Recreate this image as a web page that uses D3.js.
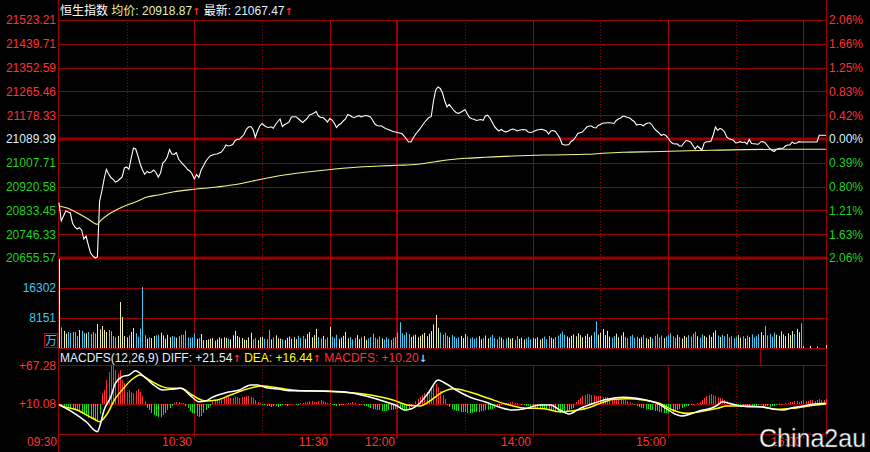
<!DOCTYPE html>
<html><head><meta charset="utf-8">
<script src="https://cdn.jsdelivr.net/npm/d3@7"></script>
<style>html,body{margin:0;padding:0;background:#000;}svg{display:block;}</style>
</head><body>
<svg id="c" width="870" height="452"></svg>
<script>
// ---------- data ----------
const priceTickLabels = ["21523.21","21439.71","21352.59","21265.46","21178.33","21089.39","21007.71","20920.58","20833.45","20746.33","20655.57"];
const pctTickLabels = ["2.06%","1.66%","1.25%","0.83%","0.42%","0.00%","0.39%","0.80%","1.21%","1.63%","2.06%"];
const volTickValues = [16302, 8151];
const macdTickValues = [57.2, 0];
const macdTickLabels = ["+67.28", "+10.08"];
const timeLabels = ["09:30","10:30","11:30","12:00","14:00","15:00","16:00"];
const timeLabelMinutes = [0, 60, 120, 150, 210, 270, 330];
const solidGridMinutes = [60, 120, 210, 270, 330];
const dottedGridMinutes = [30, 90, 180, 240, 300];
const lunchMinute = 150;

const price = [
20857.2,20790.5,20808.7,20826.9,20823.3,20819.6,20783.2,20768.6,20761.3,20766,
20757.7,20724.8,20735.8,20703,20673.8,20662.9,20655.6,20659.2,20863.4,20899.8,
20943.6,20978.9,20961.8,20949,20942.5,20932.6,20936.3,20943.6,20950.9,20983.7,
20987.3,20978.9,21020.1,21056.6,21052.9,21027.4,20998.3,20976.4,20960.7,20970.9,
20966.5,20969.1,20976.4,20966.5,20950.9,20965.5,21001.9,21009.2,21023.8,21051.1,
21034.7,21033.6,21039.5,21016.5,21005.6,20997.2,20989.1,20978.2,20972.7,20961.8,
20943.6,20960,20949,20976.4,20991,21007.4,21018.3,21027.4,21031.1,21033.6,
21034.7,21038.4,21042,21052.9,21067.5,21063.9,21065.7,21069.4,21082.1,21088.3,
21088.3,21096.7,21105.8,21124,21133.1,21135,21124.8,21094.9,21118.6,21136.8,
21145.9,21138.6,21133.1,21131.3,21133.9,21128.4,21142.3,21153.2,21162.3,21135,
21142.3,21145.9,21151.4,21169.6,21170.7,21170.7,21164.1,21156.8,21149.6,21156.8,
21164.1,21176.9,21179.4,21184.2,21189.7,21173.2,21167.8,21167.8,21160.5,21151.4,
21164.1,21158.7,21147.7,21131.3,21140.4,21145.9,21155,21162.3,21178.7,21175.1,
21169.6,21167.8,21171.4,21174.3,21169.6,21173.2,21175.1,21173.2,21169.6,21158.7,
21144.1,21138.6,21136.8,21136.8,21131.3,21126.6,21124,21120.4,21116.7,21114.9,
21113.1,21111.3,21109.4,21100.3,21089.4,21078.5,21078.5,21093,21105.8,21116.7,
21125.9,21138.6,21149.6,21158.7,21167.8,21170.7,21227.9,21268,21279,21273.5,
21257.1,21227.9,21206.1,21215.2,21204.2,21193.3,21186,21183.1,21186,21191.5,
21196.9,21180.5,21167.8,21163.4,21161.2,21156.8,21158.7,21160.5,21157.6,21173.2,
21176.2,21166,21151.4,21135,21125.9,21118.6,21124,21118.6,21115.6,21117.8,
21122.2,21125.9,21124,21118.6,21121.1,21122.9,21124,21122.2,21114.9,21113.1,
21114.9,21119.7,21122.2,21124,21124.8,21122.2,21118.6,21107.6,21118.6,21120.4,
21116.7,21105.8,21093,21071.2,21067.5,21067.5,21069.4,21080.3,21085.8,21096.7,
21109.4,21112.4,21114.9,21124,21133.1,21136.8,21136.8,21131.3,21129.5,21138.6,
21142.3,21146.6,21147.7,21148.8,21148.8,21147.7,21146,21156.8,21162.3,21166,
21173.2,21171.4,21167.8,21166,21158.7,21153.2,21140.4,21142.3,21142.3,21137.5,
21144.1,21147.7,21147.7,21138.6,21125.9,21118.6,21111.3,21102.2,21106.5,21102.2,
21093,21080.3,21073,21071.2,21071.9,21063.9,21063.9,21074.8,21083.9,21082.1,
21078.5,21065.7,21052.9,21063.9,21056.6,21049.3,21074.8,21079.6,21079.6,21082.1,
21104,21133.1,21121.1,21128.4,21124,21114.9,21096.7,21090.1,21087.6,21084.7,
21074.8,21076.6,21079.6,21076.6,21078.5,21071.2,21087.6,21073,21072.3,21071.2,
21070.1,21078.5,21080.3,21075.9,21065.7,21054.8,21048.2,21043.8,21051.1,21054.8,
21055.5,21055.5,21063.9,21067.5,21067.5,21078.5,21073,21074.8,21079.6,21078.5,
21078.5,21078.5,21078.5,21078.5,21078.5,21078.5,21078.5,21102.9,21102.9,21102.9,21102.9
];

const avgMinutes = [0,4,8,13,17,18,22,26,31,35,39,44,51,60,70,79,86,99,114,129,142,150,159,166,171,180,189,201,215,234,241,250,263,289,321,340];
const avgValues = [20845.2,20836.8,20820.7,20796.7,20778.4,20787.9,20814.9,20833.1,20851.4,20863.4,20878,20885.3,20897.3,20906,20914.4,20924.3,20936.3,20957.1,20972.7,20984.8,20991,20993.5,20997.2,21005.6,21011.8,21019,21022.7,21027.4,21031.1,21033.6,21037.3,21040.9,21043.1,21048.2,21051.9,21051.9];

const volume = [
24180,5620,4620,3900,4350,4080,4350,4350,3260,4890,
4700,4080,3990,4350,3800,4350,3990,6520,5070,5980,
4890,4350,4890,4530,3260,2900,3300,12500,8420,3260,
2900,3450,4350,5430,3990,3070,5240,16570,3450,2530,
2900,2720,3260,3450,3610,4160,3450,2530,3610,2900,
3260,3070,2800,3260,3610,3610,4700,2900,2720,2900,
3990,2500,2720,3800,2170,2170,2360,2530,2720,1980,
2360,2900,2600,2900,2720,2530,2360,3450,4700,3260,
2900,2720,2300,2170,2900,4160,2360,2700,2170,2900,
3070,2530,2400,4890,2360,2900,3450,2600,2530,2360,
2170,2800,3100,2500,2900,2400,3300,
2700,3300,2500,3800,4300,2900,3500,5200,3000,2600,
3300,2400,2900,5700,3100,2700,3600,2400,2800,3300,
4400,2600,3000,2300,2700,3500,2400,2900,3200,2200,
2600,3000,3900,2800,2400,3100,2600,2300,2900,2500,
2200,2700,3000,4200,
7000,4000,3500,4300,3800,3000,3400,3600,2900,3300,
3700,4100,3200,3900,4600,6400,9000,5500,4200,3600,
4100,3300,2900,3500,3100,2600,2900,3300,2700,3800,
3100,2600,2900,2500,2800,3200,2400,2700,3400,2600,
3000,3600,2700,2400,3100,2800,2300,2600,2900,2500,
2700,2200,3200,2500,2800,2300,2600,3000,2400,2700,
2500,2900,2300,2600,3100,2400,3300,2800,2500,3000,
3400,3900,4500,3600,3100,2800,3300,3700,3200,4000,
3500,2900,3300,3800,3000,3400,4400,7300,3600,4100,
5200,3500,4700,3100,2800,3300,3900,2900,3400,4300,
3000,2700,3200,3600,2800,3100,2600,2900,3500,2700,
2400,3000,2600,3300,3800,2900,3400,2700,3100,3500,
4000,3200,2800,3600,3000,2600,3300,2900,3500,3100,
3900,4400,3200,2800,3700,3300,2900,3500,3000,4200,
4800,3400,3000,3600,3200,3800,2900,3300,2700,3100,
3500,2800,3200,2600,3400,3000,3700,2900,3300,3800,
4300,3500,6000,3400,3900,3100,4200,3600,3300,4500,
3700,3200,4000,3500,4600,3800,5200,4300,6700,500,
0,0,600,0,0,400,0,0,0,800
];

const diffMinutes = [0,1,8,12,17,18,20,23,25,28,31,34,36,39,43,46,51,54,58,62,65,68,74,80,85,88,92,98,102,107,116,127,136,145,150,153,156,160,164,168,171,176,182,189,195,201,206,213,218,222,226,231,237,243,250,256,262,266,269,273,276,280,284,289,292,294,297,302,306,311,317,321,325,330,334,340];
const diffValues = [-1,-2.6,-16.6,-26.6,-41.7,-34.2,-9,11,31.2,41.1,43.6,50.1,46.2,37.2,26,21.1,22.6,23.6,13.5,3.5,4.5,10.1,17,21.1,28.6,28.6,24.5,22.1,20,20,19.6,18.1,12,3,-3,-9,-7.5,1.5,18.1,36.1,31.6,21.1,10.5,3,-4.5,-9,-7.5,-1.5,-1.5,-9,-15,-6.5,1.1,7.1,10.1,8.6,4.5,0,-6.5,-15,-18.1,-15,-10.1,-6.5,-1.5,3.5,1.1,-3,-4.1,-4.1,-8,-9,-5.6,-3,-0.5,1.1];
const deaMinutes = [0,1,8,15,18,21,25,28,32,36,40,45,49,54,58,62,65,70,76,83,90,98,107,120,135,148,155,160,165,170,175,182,190,198,206,215,222,228,234,240,246,252,259,266,272,278,284,292,296,303,311,318,325,333,340];
const deaValues = [-1,-2.6,-9,-21.5,-26.6,-16.6,8.5,21.1,36.1,43.6,36.1,27.1,23.6,23.6,16.1,7.5,4.5,6,13.5,22.1,27.1,23.6,20,19,15,6,-2,-3,6,18,23,18,9,0,-6,-7,-11.6,-10.1,-6.5,1.1,7.1,8,6,1.1,-9,-14,-11.6,-6.5,-3,-3,-4.1,-8,-6.5,-2.6,0];

const macdHist = [
0,-1.5,-3,-3,-4.5,-6,-7.5,-9,-10.5,-12,-15,-16.5,-18,-21,-22.5,-24,-25.5,-27,-15,
16.5,21,36,48,58.5,58.5,51,46.5,51,36,31.5,18,21,18,16.5,19.5,22.5,18,12,4.5,
-6,-9,-13.5,-16.5,-18,-19.5,-19.5,-16.5,-13.5,-9,-6,-3,
1.5,3,3,1.5,1.5,
-3,-6,-10.5,-13.5,-15,-18,-19.5,-18,-13.5,-9,-6,-3,
3,4.5,6,7.5,9,9,10.5,10.5,9,9,10.5,10.5,9,10.5,10.5,12,12,10.5,9,6,3,1.5,
-1.5,-1.5,-3,-3,-4.5,-3,-3,-4.5,-3,-1.5,-1.5,-3,-1.5,0,0,-1.5,-1.5,
1.5,1.5,3,3,4.5,4.5,3,3,4.5,6,4.5,3,1.5,1.5,
-1.5,-1.5,-3,-3,-1.5,-1.5,0,1.5,1.5,3,1.5,0,-1.5,
-1.5,-3,-3,-4.5,-6,-7.5,-7.5,-9,-9,-10.5,-10.5,-10.5,-9,-9,-9,-7.5,-7.5,-7.5,-9,-10.5,-10.5,-9,
-4.5,0,4.5,7.5,10.5,13.5,16.5,18,21,24,28.5,30,25.5,19.5,13.5,7.5,
-1.5,-4.5,-7.5,-9,-10.5,-10.5,-12,-12,-12,-13.5,-13.5,-13.5,-12,-12,-12,-10.5,-10.5,-9,-9,-7.5,-7.5,-6,-4.5,-3,
-1.5,0,1.5,1.5,3,3,1.5,1.5,0,-1.5,-1.5,-3,-3,-4.5,-4.5,
-6,-6,-7.5,-7.5,-7.5,-7.5,-9,-9,-10.5,-10.5,-12,-13.5,-13.5,-12,-10.5,-9,-7.5,-6,
3,6,9,12,13.5,15,15,13.5,13.5,12,12,12,10.5,10.5,10.5,9,9,9,7.5,7.5,7.5,6,6,4.5,3,1.5,
-1.5,-3,-4.5,-6,-6,-7.5,-7.5,-9,-9,-10.5,-10.5,-12,-12,-13.5,-13.5,-13.5,-12,-12,-10.5,-9,-7.5,-6,-4.5,-3,
-3,-1.5,-1.5,0,1.5,3,
6,9,12,13.5,15,13.5,12,10.5,9,7.5,6,4.5,3,
-1.5,-1.5,-1.5,-3,-3,-3,-3,-4.5,-4.5,-3,-3,-3,-1.5,-1.5,-3,-3,-3,-4.5,-3,-3,-1.5,-1.5,-1.5,0,1.5,
1.5,3,3,4.5,4.5,3,4.5,6,4.5,4.5,6,6,4.5,6,7.5,6,6,7.5
];

const headerTitle = "恒生指数";
const avgLabel = "20918.87";
const lastLabel = "21067.47";
const macdName = "MACDFS(12,26,9)";
const diffLabel = "+21.54", deaLabel = "+16.44", histLabel = "+10.20";

// ---------- drawing ----------
const svg = d3.select("#c");
const FONT = "'Liberation Sans', Arial, 'Noto Sans CJK SC', sans-serif";
const GRID = "#9a0000";
const RED = "#ff3232", GREEN = "#1ed21e", WHITEB = "#dceeff", CYAN = "#3cc8f0";
const L = 59, R = 826;
const lo = 20655.57, hi = 21523.21;

const x = d3.scaleLinear().domain([0, 340]).range([L, R]);
const yP = d3.scaleLinear().domain([lo, hi]).range([258, 20]);
const yV = d3.scaleLinear().domain([0, 24453]).range([348, 258]);
const yM = d3.scaleLinear().domain([-45.15, 57.2]).range([434, 366]);

svg.append("rect").attr("width", 870).attr("height", 452).attr("fill", "#000");
const grid = svg.append("g");
const hl = (y, w) => grid.append("line").attr("x1", L).attr("x2", R).attr("y1", y).attr("y2", y)
  .attr("stroke", GRID).attr("stroke-width", w || 1);

// price grid
const levels = d3.range(11).map(i => hi - i * (hi - lo) / 10);
levels.forEach((v, i) => {
  const yy = Math.round(yP(v));
  if (i === 5 || i === 10) hl(yy, 3); else hl(yy + 0.5, 1);
});
// volume grid
volTickValues.forEach(v => hl(Math.round(yV(v)) + 0.5));
hl(Math.round(yV(0)) + 0.5);
// macd grid
hl(Math.round(yM(57.2)) - 0.5);
hl(Math.round(yM(0)) + 0.5);
hl(Math.round(yM(-45.15)) + 0.5);

// vertical grid
const vl = (m, y1, y2, w, dash) => {
  const xx = Math.round(x(m)) + (w === 2 ? 0 : 0.5);
  const l = grid.append("line").attr("x1", xx).attr("x2", xx).attr("y1", y1).attr("y2", y2)
    .attr("stroke", GRID).attr("stroke-width", w);
  if (dash) l.attr("stroke-dasharray", dash);
};
const segs = [[20, 348], [366, 438]];
segs.forEach(([a, b]) => {
  solidGridMinutes.forEach(m => vl(m, a, b, 1));
  dottedGridMinutes.forEach(m => vl(m, a, b > 430 ? 434 : b, 1, "1,2"));
  vl(lunchMinute, a, b, 2);
});
// borders
grid.append("line").attr("x1", L - 0.5).attr("x2", L - 0.5).attr("y1", 0).attr("y2", 452).attr("stroke", GRID);
grid.append("line").attr("x1", R + 0.5).attr("x2", R + 0.5).attr("y1", 0).attr("y2", 438).attr("stroke", GRID);

// ---------- volume bars ----------
svg.append("g").selectAll("line").data(volume).join("line")
  .attr("x1", (d, i) => Math.round(x(i)) + 0.5).attr("x2", (d, i) => Math.round(x(i)) + 0.5)
  .attr("y1", yV(0)).attr("y2", d => yV(d))
  .attr("stroke", (d, i) => i === 0 ? "#ffffff" : (price[i] >= price[i - 1] ? "#ececa0" : CYAN))
  .attr("stroke-width", 1);

// ---------- price & avg ----------
const lineP = d3.line().x((d, i) => x(i)).y(d => yP(d));
svg.append("path").datum(price).attr("d", lineP).attr("fill", "none")
  .attr("stroke", "#ffffff").attr("stroke-width", 1.1);
const avgPts = avgMinutes.map((m, i) => [m, avgValues[i]]);
svg.append("path").datum(avgPts)
  .attr("d", d3.line().x(d => x(d[0])).y(d => yP(d[1])).curve(d3.curveMonotoneX))
  .attr("fill", "none").attr("stroke", "#f4f48c").attr("stroke-width", 1.1);

// ---------- MACD ----------
svg.append("g").selectAll("line").data(macdHist).join("line")
  .attr("x1", (d, i) => Math.round(x(i)) + 0.5).attr("x2", (d, i) => Math.round(x(i)) + 0.5)
  .attr("y1", yM(0)).attr("y2", d => yM(d))
  .attr("stroke", d => d >= 0 ? "#ff3030" : "#10e010").attr("stroke-width", 1);
const lineM = d3.line().x(d => x(d[0])).y(d => yM(d[1])).curve(d3.curveMonotoneX);
svg.append("path").datum(deaMinutes.map((m, i) => [m, deaValues[i]])).attr("d", lineM)
  .attr("fill", "none").attr("stroke", "#ffff00").attr("stroke-width", 1.5);
svg.append("path").datum(diffMinutes.map((m, i) => [m, diffValues[i]])).attr("d", lineM)
  .attr("fill", "none").attr("stroke", "#ffffff").attr("stroke-width", 1.5);

// ---------- axes text ----------
const txt = svg.append("g").attr("font-family", FONT).attr("font-size", 12);
levels.forEach((v, i) => {
  const col = i < 5 ? RED : (i === 5 ? WHITEB : GREEN);
  txt.append("text").attr("x", 56).attr("y", yP(v)).attr("dy", "0.36em")
    .attr("text-anchor", "end").attr("fill", col).text(priceTickLabels[i]);
  txt.append("text").attr("x", 829).attr("y", yP(v)).attr("dy", "0.36em")
    .attr("fill", col).text(pctTickLabels[i]);
});
volTickValues.forEach(v => {
  txt.append("text").attr("x", 56).attr("y", yV(v)).attr("dy", "0.36em")
    .attr("text-anchor", "end").attr("fill", CYAN).text(String(v));
});
svg.append("rect").attr("x", 44.5).attr("y", 333.5).attr("width", 13).attr("height", 14)
  .attr("fill", "none").attr("stroke", "#c00000");
txt.append("text").attr("x", 51).attr("y", 345).attr("text-anchor", "middle")
  .attr("fill", CYAN).text("万");
macdTickValues.forEach((v, i) => {
  txt.append("text").attr("x", 56).attr("y", yM(v)).attr("dy", "0.36em")
    .attr("text-anchor", "end").attr("fill", RED).text(macdTickLabels[i]);
});
timeLabels.forEach((t, i) => {
  txt.append("text").attr("x", Math.round(x(timeLabelMinutes[i])) - 2).attr("y", 446)
    .attr("text-anchor", "end").attr("fill", RED).text(t);
});

// header
const hd = txt.append("text").attr("x", 60).attr("y", 15);
hd.append("tspan").attr("fill", "#ffffff").text(headerTitle + " ");
hd.append("tspan").attr("fill", "#f0f08c").text("均价: ");
hd.append("tspan").attr("fill", "#e6f0b4").text(avgLabel);
hd.append("tspan").attr("fill", "#ff2020").attr("font-family", "DejaVu Sans").attr("font-size", 10).attr("font-weight", "bold").text("↑");
hd.append("tspan").attr("fill", "#ffffff").text(" 最新: ");
hd.append("tspan").attr("fill", "#e0f0ff").text(lastLabel);
hd.append("tspan").attr("fill", "#ff2020").attr("font-family", "DejaVu Sans").attr("font-size", 10).attr("font-weight", "bold").text("↑");

// macd header
const mh = txt.append("text").attr("x", 60).attr("y", 362);
mh.append("tspan").attr("fill", "#e0f0ff").text(macdName + " DIFF: " + diffLabel);
mh.append("tspan").attr("fill", "#ff2020").attr("font-family", "DejaVu Sans").attr("font-size", 10).attr("font-weight", "bold").text("↑");
mh.append("tspan").attr("fill", "#ffff00").text(" DEA: " + deaLabel);
mh.append("tspan").attr("fill", "#ff2020").attr("font-family", "DejaVu Sans").attr("font-size", 10).attr("font-weight", "bold").text("↑");
mh.append("tspan").attr("fill", "#ff3030").text(" MACDFS: " + histLabel);
mh.append("tspan").attr("fill", "#a0d0ff").attr("font-family", "DejaVu Sans").attr("font-size", 10).attr("font-weight", "bold").text("↓");

svg.append("rect").attr("x", 760.5).attr("y", 348.5).attr("width", 66).attr("height", 17)
  .attr("fill", "#000").attr("stroke", GRID);
txt.append("text").attr("x", 793).attr("y", 361.5).attr("text-anchor", "middle")
  .attr("fill", "#d0d0d0").text("指标说明");

// watermark
svg.append("text").attr("x", 759).attr("y", 447).attr("font-family", FONT)
  .attr("font-size", 25).attr("fill", "#ffffff").attr("stroke", "#444").attr("stroke-width", 0.5)
  .text("China2au");
</script>
</body></html>
